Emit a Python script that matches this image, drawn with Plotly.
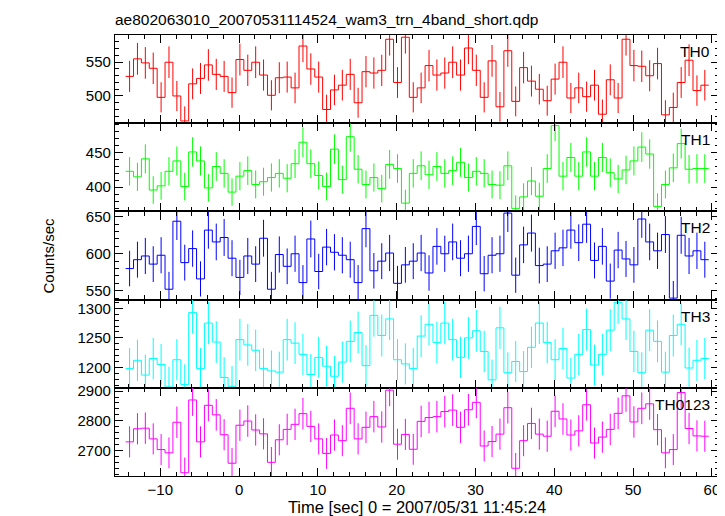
import numpy as np
import plotly.graph_objects as go
from plotly.subplots import make_subplots

TITLE = "ae802063010_20070531114524_wam3_trn_4band_short.qdp"
X_TITLE = "Time [sec] 0 = 2007/05/31 11:45:24"
Y_TITLE = "Counts/sec"
BAND_NAMES = ["TH0", "TH1", "TH2", "TH3", "TH0123"]
BAND_COLORS = ["#ff0000", "#00ff00", "#0000ff", "#00ffff", "#ff00ff"]

BIN_WIDTH = 1.0
FIRST_BIN_CENTER = -13.9
N_BINS = 74
time_centers = [FIRST_BIN_CENTER + i * BIN_WIDTH for i in range(N_BINS)]

th0 = [529, 555, 549, 541, 498, 550, 500, 463, 518, 526, 546, 532, 529, 505, 554, 538, 550, 531, 501, 527,
       528, 512, 574, 540, 528, 480, 509, 516, 532, 490, 536, 534, 538, 584, 520, 587, 498, 512, 545, 531,
       534, 550, 531, 571, 538, 498, 552, 484, 567, 492, 542, 522, 510, 493, 525, 550, 497, 512, 499, 516,
       473, 524, 497, 584, 545, 544, 530, 548, 472, 483, 520, 553, 508, 516]
th1 = [423, 415, 441, 396, 402, 423, 438, 401, 451, 438, 399, 430, 420, 393, 416, 424, 404, 408, 414, 420,
       413, 434, 465, 434, 417, 401, 455, 411, 473, 426, 404, 414, 398, 433, 427, 377, 420, 431, 418, 430,
       420, 424, 436, 414, 423, 420, 404, 403, 431, 369, 386, 409, 387, 427, 489, 416, 443, 416, 451, 416,
       443, 421, 412, 425, 438, 458, 448, 372, 404, 428, 463, 426, 427, 427]
th2 = [580, 592, 597, 586, 598, 552, 644, 588, 607, 566, 632, 616, 622, 594, 568, 597, 586, 621, 552, 599,
       583, 600, 561, 620, 576, 609, 602, 598, 592, 561, 634, 577, 590, 601, 560, 585, 590, 601, 574, 610,
       600, 616, 594, 600, 637, 573, 598, 600, 655, 571, 612, 628, 584, 586, 604, 608, 632, 615, 640, 591,
       610, 563, 605, 593, 585, 647, 616, 604, 626, 540, 625, 597, 604, 592]
th3 = [1198, 1212, 1187, 1215, 1205, 1167, 1213, 1171, 1293, 1198, 1275, 1243, 1183, 1168, 1247, 1238, 1229, 1198, 1194, 1192,
       1247, 1241, 1222, 1188, 1217, 1202, 1185, 1209, 1244, 1259, 1203, 1288, 1254, 1282, 1213, 1206, 1198, 1253, 1273, 1242,
       1275, 1247, 1217, 1250, 1262, 1227, 1179, 1267, 1191, 1210, 1193, 1234, 1275, 1242, 1213, 1232, 1182, 1222, 1264, 1204,
       1222, 1263, 1310, 1282, 1227, 1191, 1263, 1244, 1192, 1254, 1273, 1199, 1212, 1215]
th0123 = [2729, 2773, 2775, 2739, 2703, 2692, 2795, 2625, 2870, 2729, 2852, 2820, 2753, 2657, 2785, 2799, 2769, 2756, 2660, 2736,
          2771, 2788, 2824, 2781, 2739, 2690, 2752, 2733, 2842, 2739, 2778, 2814, 2779, 2903, 2721, 2754, 2704, 2798, 2811, 2814,
          2831, 2836, 2778, 2837, 2862, 2715, 2730, 2755, 2844, 2640, 2733, 2791, 2755, 2748, 2832, 2806, 2752, 2766, 2854, 2725,
          2745, 2771, 2825, 2884, 2796, 2842, 2857, 2770, 2692, 2703, 2895, 2774, 2749, 2748]
BAND_VALUES = [th0, th1, th2, th3, th0123]

Y_RANGES = [[459.7, 590.3], [365.1, 492.5], [538.0, 657.3], [1165.5, 1314.7], [2614, 2911]]
Y_MAJOR = [50, 50, 50, 50, 100]
Y_MINOR = [10, 10, 10, 10, 20]
X_RANGE = [-15.75, 60.9]

FONT = "Liberation Sans, Arial, sans-serif"

fig = make_subplots(rows=5, cols=1, shared_xaxes=True, vertical_spacing=0)

for i, (vals, color) in enumerate(zip(BAND_VALUES, BAND_COLORS)):
    row = i + 1
    t = np.array(time_centers)
    v = np.array(vals, dtype=float)
    edges = list(t - BIN_WIDTH / 2) + [t[-1] + BIN_WIDTH / 2]
    steps = list(v) + [v[-1]]
    fig.add_trace(go.Scatter(x=edges, y=steps, mode="lines", line=dict(color=color, width=1, shape="hv"),
                             showlegend=False, hoverinfo="skip"), row=row, col=1)
    fig.add_trace(go.Scatter(x=t, y=v, mode="markers", marker=dict(size=0.1, color=color, opacity=0),
                             error_y=dict(type="data", array=np.sqrt(v * BIN_WIDTH), color=color, thickness=1, width=0),
                             showlegend=False, hoverinfo="skip"), row=row, col=1)

axis_common = dict(showline=True, linecolor="black", linewidth=1.3, mirror="ticks", ticks="inside",
                   tickcolor="black", showgrid=False, zeroline=False,
                   tickfont=dict(family=FONT, size=15, color="black"))

for i in range(5):
    row = i + 1
    fig.update_yaxes(range=Y_RANGES[i], dtick=Y_MAJOR[i], ticklen=8, tickwidth=1,
                     minor=dict(dtick=Y_MINOR[i], ticklen=4, ticks="inside", tickcolor="black"),
                     row=row, col=1, **axis_common)
    fig.update_xaxes(range=X_RANGE, dtick=10, tick0=0, ticklen=8, tickwidth=1,
                     minor=dict(dtick=2, ticklen=4, ticks="inside", tickcolor="black"),
                     showticklabels=(row == 5), row=row, col=1, **axis_common)
    yd = fig.layout["yaxis" + ("" if row == 1 else str(row))].domain
    fig.add_annotation(x=1.0, y=yd[1], xref="paper", yref="paper", xanchor="right", yanchor="top",
                       text=BAND_NAMES[i], showarrow=False, xshift=-7, yshift=-6,
                       font=dict(family=FONT, size=15.5, color="black"))

fig.update_xaxes(title=dict(text=X_TITLE, standoff=2, font=dict(family=FONT, size=16.5, color="black")),
                 row=5, col=1)

fig.add_annotation(x=0, y=0.5, xref="paper", yref="paper", xanchor="center", yanchor="middle",
                   text=Y_TITLE, textangle=-90, showarrow=False, xshift=-67,
                   font=dict(family=FONT, size=15, color="black"))

fig.update_layout(
    width=725, height=516,
    margin=dict(l=107, r=14, t=27, b=40),
    paper_bgcolor="white", plot_bgcolor="white",
    title=dict(text=TITLE, x=107 / 725, xanchor="left", y=1 - 12 / 516, yanchor="middle",
               font=dict(family=FONT, size=15.5, color="black")),
)

fig.write_html("out.html")
